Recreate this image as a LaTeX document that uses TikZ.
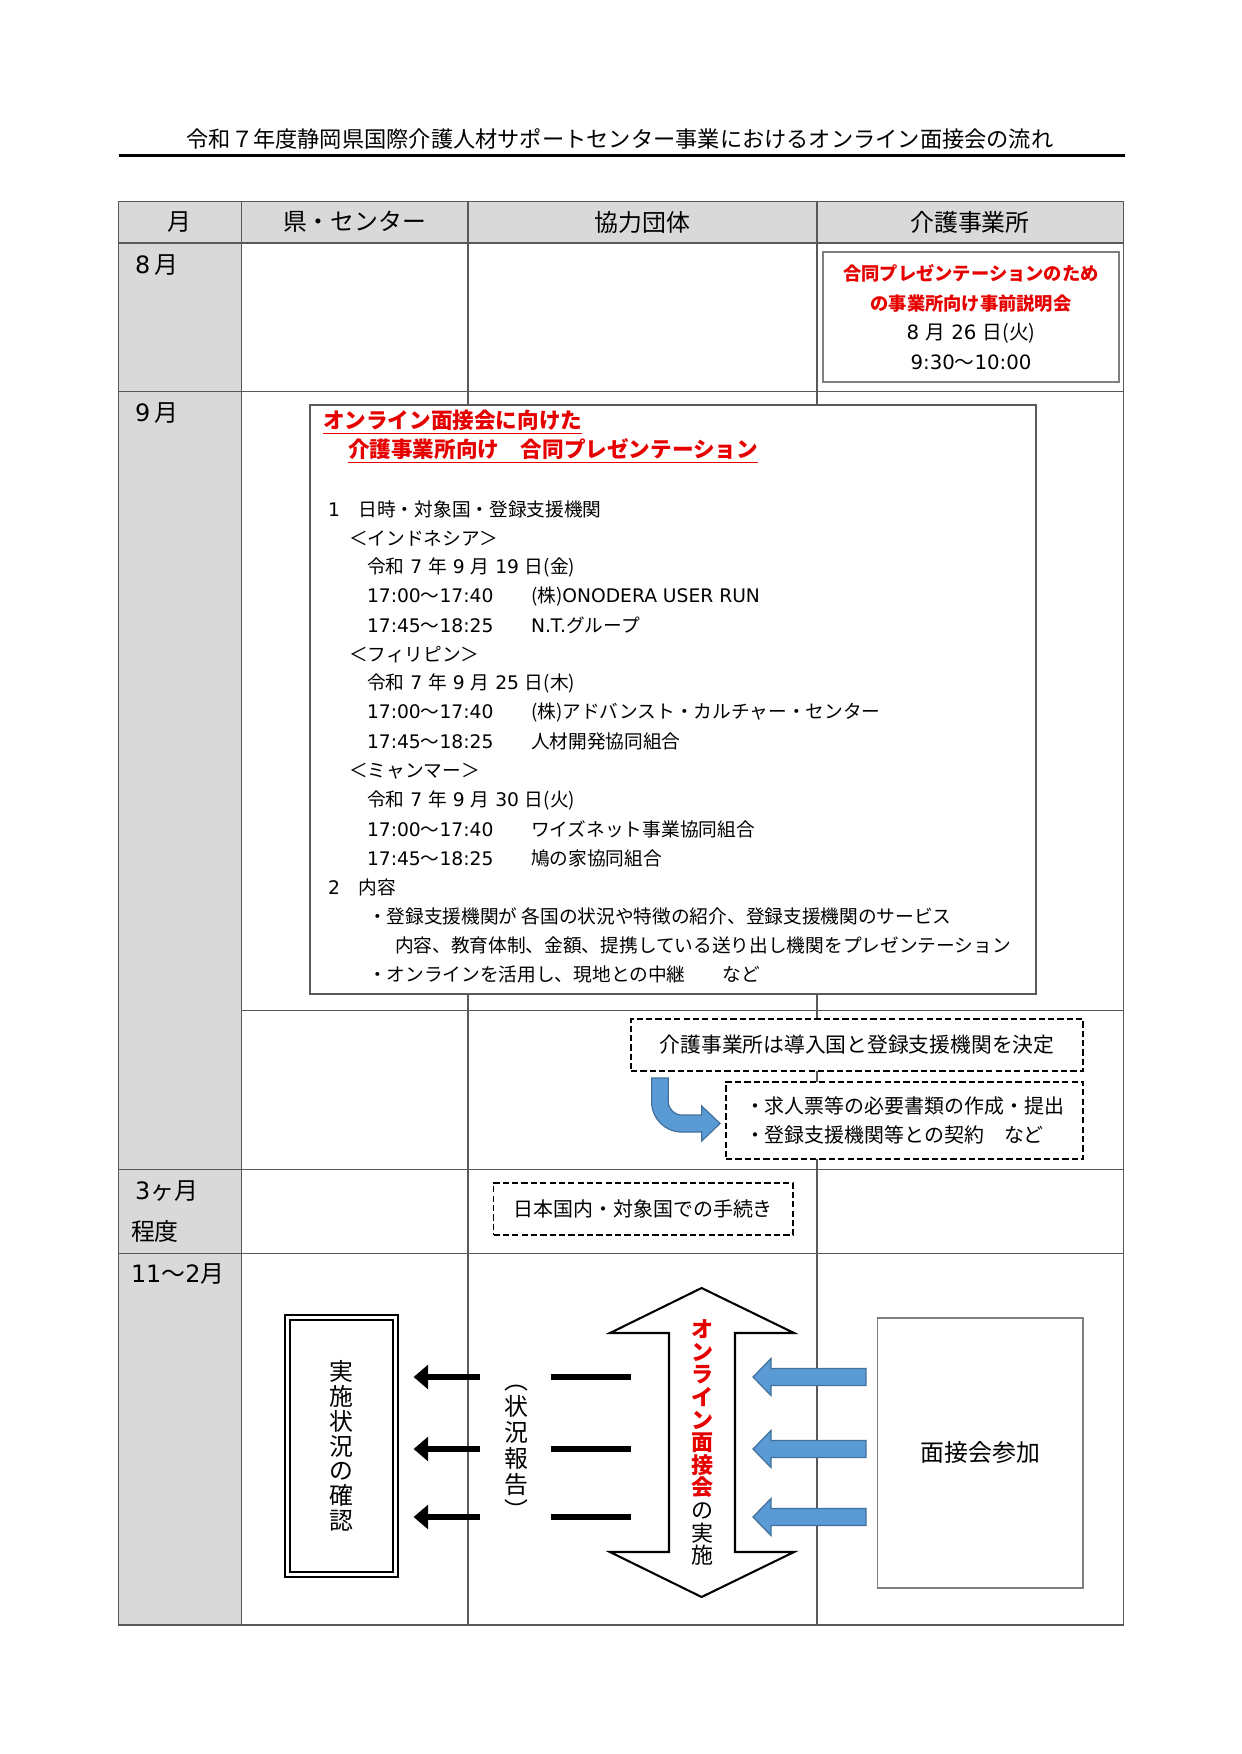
\documentclass[tikz,border=0pt]{standalone}
\usepackage{fontspec}
\setmainfont{Noto Sans CJK JP}
\newfontfamily\latfont{DejaVu Sans}
\usepackage{xcolor}
\definecolor{Grid}{HTML}{595959}
\definecolor{Shade}{HTML}{D9D9D9}
\definecolor{Alert}{HTML}{E60000}
\definecolor{Sky}{HTML}{5B9BD5}
\definecolor{SkyEdge}{HTML}{41719C}
\definecolor{Frame}{HTML}{7F7F7F}
\usetikzlibrary{arrows.meta,positioning}
\newcommand{\lat}[1]{{\latfont #1}}
\newcommand{\hot}[1]{{\color{Alert}\bfseries #1}}
\newcommand{\timecol}[2]{\makebox[79pt][l]{\lat{#1}～\lat{#2}}}

\begin{document}
\begin{tikzpicture}[x=0.16922mm,y=-0.16922mm,
  every node/.style={inner sep=0pt,outer sep=0pt},
  wh/.style 2 args={minimum width={#1*0.16922mm},minimum height={#2*0.16922mm}},
  tableline/.style={draw=Grid,line width=0.7pt},
  head/.style={font=\fontsize{11.5pt}{13pt}\selectfont},
  month/.style={anchor=west,font=\fontsize{11.5pt}{13pt}\selectfont},
  body/.style={anchor=west,font=\fontsize{9pt}{11pt}\selectfont},
  alert/.style={anchor=west,text=Alert,font=\fontsize{10.4pt}{12pt}\selectfont\bfseries},
  note/.style={draw=Frame,line width=0.8pt,fill=white},
  dashbox/.style={draw=black,fill=white,line width=0.9pt,dash pattern=on 3pt off 1.5pt},
  vtext/.style={align=center},
  report/.style={line width=2.9pt,-{Triangle[length=7pt,width=11.5pt]}},
  skyarrow/.style={draw=SkyEdge,fill=Sky,line width=0.6pt}
]
\useasboundingbox (0,0) rectangle (1241,1754);
\fill[white] (0,0) rectangle (1241,1754);

\node[font=\fontsize{10.7pt}{12pt}\selectfont] (title) at (620,139) {令和７年度静岡県国際介護人材サポートセンター事業におけるオンライン面接会の流れ};
\draw[line width=1.2pt] (118.6,155.6) -- (1124.6,155.6);

\fill[Shade] (118.6,201.4) rectangle (1123.5,242.8);
\fill[Shade] (118.6,242.8) rectangle (241.7,1624.9);
\foreach \y in {242.8,391.7,1169.4,1253.3}
  \draw[tableline] (118.6,\y) -- (1123.5,\y);
\draw[tableline] (241.7,1010.5) -- (1123.5,1010.5);
\foreach \x in {241.7,467.8,817}
  \draw[tableline] (\x,201.4) -- (\x,1624.9);
\draw[tableline] (118.6,201.4) rectangle (1123.5,1624.9);

\node[head] (hMonth) at (179,222) {月};
\node[head] (hKen) at (354.7,222) {県・センター};
\node[head] (hKyo) at (642.5,222) {協力団体};
\node[head] (hKaigo) at (970,222) {介護事業所};

\node[month] (m8) at (135,265) {\lat{8}\,月};
\node[month] (m9) at (135,413) {\lat{9}\,月};
\node[month] (m3) at (135,1190.6) {\lat{3}ヶ月};
\node[month] (m3b) at (131,1231) {程度};
\node[month] (m11) at (131,1274.5) {\lat{11}～\lat{2}月};

\node[note,wh={296}{130},align=center,font=\fontsize{9.5pt}{14.2pt}\selectfont] (aug) at (971,317)
  {\hot{\fontsize{8.8pt}{14.2pt}\selectfont 合同プレゼンテーションのため}\\\hot{\fontsize{8.8pt}{14.2pt}\selectfont の事業所向け事前説明会}\\\lat{8 }月\lat{ 26 }日(火)\\\lat{9:30}～\lat{10:00}};

\node[note,draw=Grid,wh={726}{589}] (sep) at (673,699.4) {};
\node[alert] (sepA) at (323,422) {\underline{オンライン面接会に向けた}};
\node[alert] (sepB) at (348,451) {\underline{介護事業所向け　合同プレゼンテーション}};
\foreach \x/\t [count=\i] in {
  328/{\lat{1}　日時・対象国・登録支援機関},
  349/{＜インドネシア＞},
  367/{令和\lat{ 7 }年\lat{ 9 }月\lat{ 19 }日(金)},
  367/{\timecol{17:00}{17:40}(株)\lat{ONODERA USER RUN}},
  367/{\timecol{17:45}{18:25}\lat{N.T.}グループ},
  349/{＜フィリピン＞},
  367/{令和\lat{ 7 }年\lat{ 9 }月\lat{ 25 }日(木)},
  367/{\timecol{17:00}{17:40}(株)アドバンスト・カルチャー・センター},
  367/{\timecol{17:45}{18:25}人材開発協同組合},
  349/{＜ミャンマー＞},
  367/{令和\lat{ 7 }年\lat{ 9 }月\lat{ 30 }日(火)},
  367/{\timecol{17:00}{17:40}ワイズネット事業協同組合},
  367/{\timecol{17:45}{18:25}鳩の家協同組合},
  328/{\lat{2}　内容},
  368/{・登録支援機関が 各国の状況や特徴の紹介、登録支援機関のサービス},
  395/{内容、教育体制、金額、提携している送り出し機関をプレゼンテーション},
  368/{・オンラインを活用し、現地との中継　　など}}
  \node[body] (ln\i) at (\x,{509+29.1*(\i-1)}) {\t};

\node[dashbox,wh={452}{52},font=\fontsize{10pt}{12pt}\selectfont] (decide) at (857,1045) {介護事業所は導入国と登録支援機関を決定};
\node[dashbox,wh={357}{77},align=left,font=\fontsize{9.6pt}{13.9pt}\selectfont] (docs) at (904.5,1120.5) {・求人票等の必要書類の作成・提出\\・登録支援機関等との契約　など};
\draw[skyarrow] (651.7,1078) -- (668.3,1078) -- (668.3,1101.6) .. controls (668.3,1109) and (674.3,1115) .. (681.7,1115)
  -- (701.7,1115) -- (701.7,1106) -- (720,1123.5) -- (701.7,1141) -- (701.7,1132) -- (681.7,1132)
  .. controls (665.1,1132) and (651.7,1118.6) .. (651.7,1102) -- cycle;

\node[dashbox,wh={299.5}{52},font=\fontsize{9.6pt}{12pt}\selectfont] (proc) at (643.3,1209) {日本国内・対象国での手続き};

\node[draw,double,double distance=0.5mm,line width=0.8pt,fill=white,wh={108}{257},vtext,font=\fontsize{11.5pt}{11.93pt}\selectfont] (check) at (341.5,1446) {実\\施\\状\\況\\の\\確\\認};
\node[vtext,font=\fontsize{11.5pt}{12.5pt}\selectfont] (rep) at (516,1452) {︵\\状\\況\\報\\告\\︶};
\foreach \y [count=\i] in {1377,1449,1517} {
  \coordinate (rs\i) at (479.6,\y);
  \coordinate (rt\i) at (413.6,\y);
  \coordinate (ds\i) at (551,\y);
  \coordinate (de\i) at (631.4,\y);
  \draw[report] (rs\i) -- (rt\i);
  \draw[line width=2.9pt] (ds\i) -- (de\i);
}

\draw[line width=1pt,fill=white] (701.6,1288) -- (794,1333) -- (735,1333) -- (735,1552) -- (794,1552) -- (701.6,1597)
  -- (610,1552) -- (669,1552) -- (669,1333) -- (610,1333) -- cycle;
\node[vtext,font=\fontsize{10.6pt}{10.9pt}\selectfont] (talk) at (702,1442.6)
  {\hot{オ}\\\hot{ン}\\\hot{ラ}\\\hot{イ}\\\hot{ン}\\\hot{面}\\\hot{接}\\\hot{会}\\の\\実\\施};

\foreach \y in {1377,1449,1517}
  \draw[skyarrow] (866,\y-8.5) -- (771,\y-8.5) -- (771,\y-18.5) -- (753,\y) -- (771,\y+18.5) -- (771,\y+8.5) -- (866,\y+8.5) -- cycle;
\node[note,wh={205.4}{270.3},font=\fontsize{11.5pt}{13pt}\selectfont] (join) at (980.3,1452.9) {面接会参加};
\end{tikzpicture}
\end{document}
